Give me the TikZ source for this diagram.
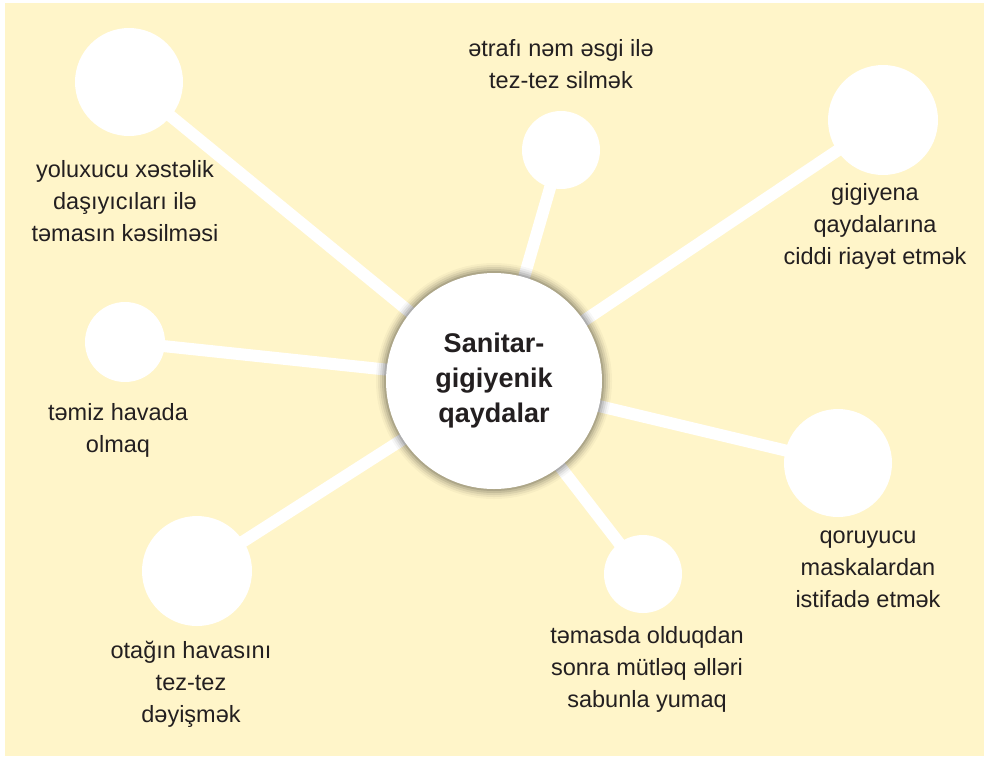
\documentclass[tikz,border=0pt]{standalone}
\usepackage{fontspec}
\setmainfont{Liberation Sans}
\definecolor{bgyellow}{HTML}{FFF5C9}
\definecolor{txt}{HTML}{231F20}
\begin{document}
\begin{tikzpicture}[x=1pt,y=-1pt,
  sat/.style={circle,fill=white,inner sep=0pt,minimum size=#1},
  link/.style={white,line width=12pt},
  lbl/.style={text=txt,align=center,font=\fontsize{23.5}{32}\selectfont,inner sep=0pt}]
\useasboundingbox (0,0) rectangle (987,756);
\fill[white] (0,0) rectangle (987,756);
\fill[bgyellow] (5,3) rectangle (984,756);
% satellites positions
\coordinate (cc) at (494,381);
\coordinate (ptl) at (129,82);
\coordinate (ptm) at (561,150);
\coordinate (ptr) at (883,120);
\coordinate (pl) at (125,342);
\coordinate (pr) at (838,463);
\coordinate (pbl) at (197,571);
\coordinate (pbm) at (643,574);
% connectors
\foreach \p in {ptl,ptm,ptr,pl,pr,pbl,pbm} \draw[link] (cc) -- (\p);
% satellite circles
\node[sat=108pt] (ntl) at (ptl) {};
\node[sat=78pt] (ntm) at (ptm) {};
\node[sat=110pt] (ntr) at (ptr) {};
\node[sat=80pt] (nl) at (pl) {};
\node[sat=108pt] (nr) at (pr) {};
\node[sat=110pt] (nbl) at (pbl) {};
\node[sat=78pt] (nbm) at (pbm) {};
% center shadow
\foreach \r/\o in {118/0.03,116/0.05,114/0.07,112/0.09,110/0.12} \fill[black,opacity=\o] (cc) circle (\r);
\node[circle,fill=white,minimum size=216pt,inner sep=0pt,text=txt,align=center,
  font=\bfseries\fontsize{27}{35}\selectfont] (c) at (cc) {Sanitar-\\gigiyenik\\qaydalar};
% labels
\node[lbl] (ttm) at (561,64) {ətrafı nəm əsgi ilə\\tez-tez silmək};
\node[lbl] (ttl) at (125,201) {yoluxucu xəstəlik\\daşıyıcıları ilə\\təmasın kəsilməsi};
\node[lbl] (ttr) at (875,226) {gigiyena\\qaydalarına\\ciddi riayət etmək};
\node[lbl] (tl) at (118,430) {təmiz havada\\olmaq};
\node[lbl] (tr) at (868,569) {qoruyucu\\maskalardan\\istifadə etmək};
\node[lbl] (tbl) at (191,684) {otağın havasını\\tez-tez\\dəyişmək};
\node[lbl] (tbm) at (647,669) {təmasda olduqdan\\sonra mütləq əlləri\\sabunla yumaq};
\end{tikzpicture}
\end{document}
